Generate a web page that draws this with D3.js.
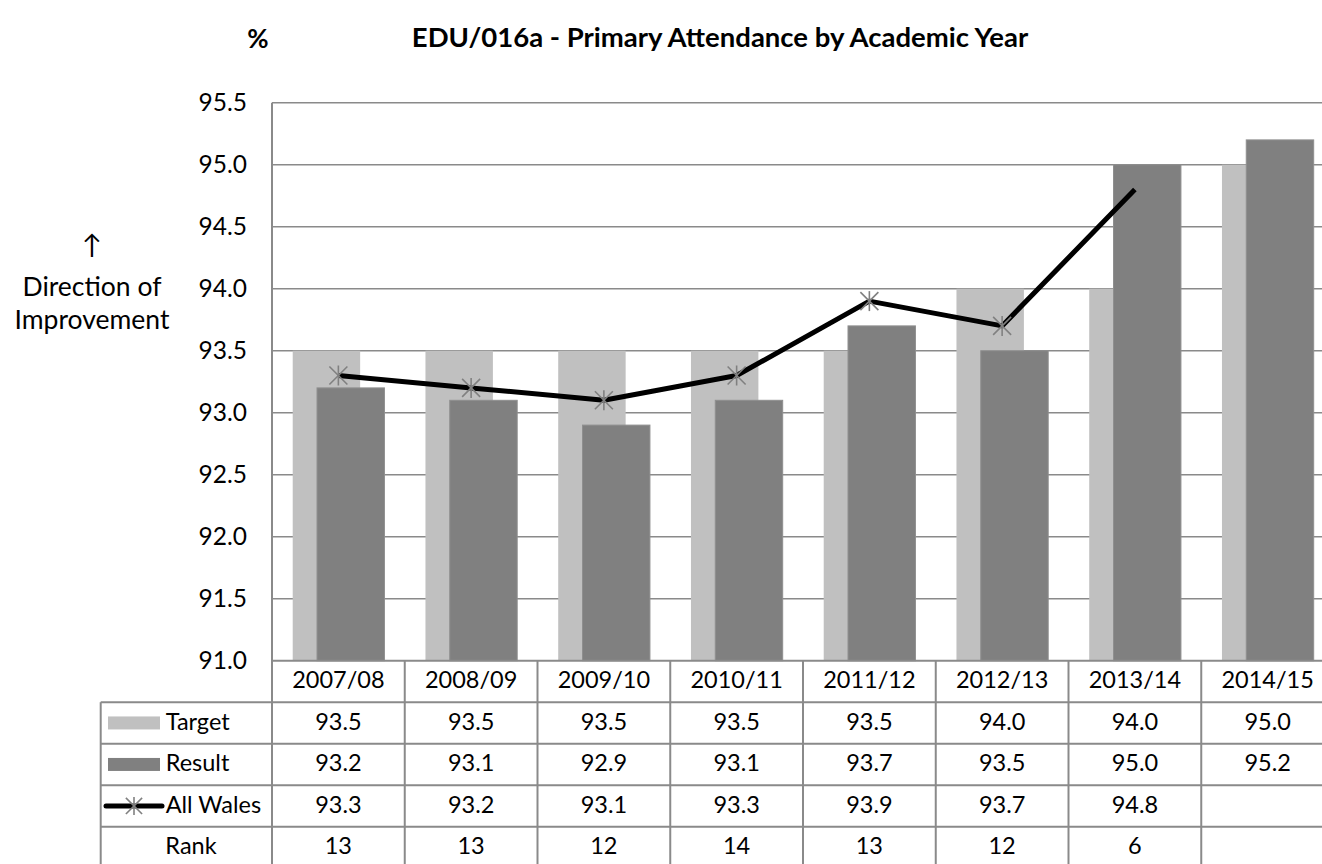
<!DOCTYPE html>
<html>
<head>
<meta charset="utf-8">
<script src="https://cdn.jsdelivr.net/npm/d3@7"></script>
<style>
  body { margin: 0; background: #fff; }
  svg text { font-family: Lato, "Open Sans", sans-serif; fill: #000; }
</style>
</head>
<body>
<div class="container"></div>
<script>
const years = ['2007/08', '2008/09', '2009/10', '2010/11', '2011/12', '2012/13', '2013/14', '2014/15'];
const target = [93.5, 93.5, 93.5, 93.5, 93.5, 94.0, 94.0, 95.0];
const result = [93.2, 93.1, 92.9, 93.1, 93.7, 93.5, 95.0, 95.2];
const allWales = [93.3, 93.2, 93.1, 93.3, 93.9, 93.7, 94.8, null];
const rank = [13, 13, 12, 14, 13, 12, 6, null];
const yTicks = [91.0, 91.5, 92.0, 92.5, 93.0, 93.5, 94.0, 94.5, 95.0, 95.5];

const width = 1322;
const height = 864;
const plotLeft = 272;
const plotTop = 102.7;
const plotBottom = 660.7;
const colW = 132.75;
const rowH = 41.5;
const tableLeft = 100.7;
const gridColor = '#8a8a8a';

const svg = d3.select('.container')
  .append('svg')
  .attr('width', width)
  .attr('height', height);

const x = d3.scaleBand()
  .domain(years)
  .range([plotLeft, plotLeft + colW * years.length])
  .padding(0);

const y = d3.scaleLinear()
  .domain([91, 95.5])
  .range([plotBottom, plotTop]);

const plotRight = x.range()[1];

// Title and labels
svg.append('text')
  .attr('x', 720)
  .attr('y', 40)
  .attr('text-anchor', 'middle')
  .attr('dominant-baseline', 'middle')
  .style('font-size', '27.5px')
  .style('font-weight', 'bold')
  .text('EDU/016a - Primary Attendance by Academic Year');

svg.append('text')
  .attr('x', 258)
  .attr('y', 41)
  .attr('text-anchor', 'middle')
  .attr('dominant-baseline', 'middle')
  .style('font-size', '26px')
  .style('font-weight', 'bold')
  .text('%');

const dir = svg.append('g').attr('text-anchor', 'middle').style('font-size', '26.5px');
dir.append('text').attr('x', 92).attr('y', 247).attr('dominant-baseline', 'middle').text('↑');
dir.append('text').attr('x', 92).attr('y', 289).attr('dominant-baseline', 'middle').text('Direction of');
dir.append('text').attr('x', 92).attr('y', 322).attr('dominant-baseline', 'middle').text('Improvement');

// Gridlines
svg.append('g')
  .selectAll('line')
  .data(yTicks.filter(d => d > 91))
  .enter()
  .append('line')
  .attr('x1', plotLeft)
  .attr('x2', plotRight)
  .attr('y1', d => y(d))
  .attr('y2', d => y(d))
  .attr('stroke', gridColor)
  .attr('stroke-width', 1.5);

// Y axis
const yAxis = svg.append('g')
  .attr('transform', `translate(${plotLeft},0)`)
  .call(d3.axisLeft(y).tickValues(yTicks).tickFormat(d3.format('.1f')).tickSize(0).tickPadding(25));
yAxis.select('.domain').remove();
yAxis.selectAll('text').style('font-size', '24.5px').style('font-family', 'Lato, "Open Sans", sans-serif');

// Bars
const barW = colW * 0.508;
const tOff = colW * 0.156;
const rOff = colW * 0.339;

svg.append('g')
  .selectAll('rect')
  .data(years)
  .enter()
  .append('rect')
  .attr('x', d => x(d) + tOff)
  .attr('y', (d, i) => y(target[i]))
  .attr('width', barW)
  .attr('height', (d, i) => y(91) - y(target[i]))
  .attr('fill', '#c0c0c0');

svg.append('g')
  .selectAll('rect')
  .data(years)
  .enter()
  .append('rect')
  .attr('x', d => x(d) + rOff)
  .attr('y', (d, i) => y(result[i]))
  .attr('width', barW)
  .attr('height', (d, i) => y(91) - y(result[i]))
  .attr('fill', '#808080')
  .attr('stroke', '#8f8f8f')
  .attr('stroke-width', 1);

// All Wales line
const cx = d => x(d) + x.bandwidth() / 2;
const wales = years.map((d, i) => ({ year: d, value: allWales[i] })).filter(d => d.value !== null);

svg.append('path')
  .datum(wales)
  .attr('fill', 'none')
  .attr('stroke', '#000')
  .attr('stroke-width', 5)
  .attr('stroke-linejoin', 'round')
  .attr('d', d3.line().x(d => cx(d.year)).y(d => y(d.value)));

function star(g, px, py, r) {
  const s = g.append('g')
    .attr('transform', `translate(${px},${py})`)
    .attr('stroke', '#808080')
    .attr('stroke-width', 1.6);
  s.append('line').attr('x1', 0).attr('x2', 0).attr('y1', -r).attr('y2', r);
  s.append('line').attr('x1', -r * 0.9).attr('x2', r * 0.9).attr('y1', -r * 0.9).attr('y2', r * 0.9);
  s.append('line').attr('x1', -r * 0.9).attr('x2', r * 0.9).attr('y1', r * 0.9).attr('y2', -r * 0.9);
}

// the last point has no visible marker in the original
const markers = svg.append('g');
wales.slice(0, -1).forEach(d => star(markers, cx(d.year), y(d.value), 10));

// Data table
const table = svg.append('g');
const tableBottom = plotBottom + rowH * 5;
const rowTops = d3.range(5).map(i => plotBottom + rowH * i);

// horizontal lines
table.selectAll('line.h')
  .data(rowTops)
  .enter()
  .append('line')
  .attr('class', 'h')
  .attr('x1', (d, i) => i === 0 ? plotLeft : tableLeft)
  .attr('x2', plotRight)
  .attr('y1', d => d)
  .attr('y2', d => d)
  .attr('stroke', gridColor)
  .attr('stroke-width', 2);

// vertical lines
table.selectAll('line.v')
  .data(years.concat(['end']))
  .enter()
  .append('line')
  .attr('class', 'v')
  .attr('x1', (d, i) => plotLeft + colW * i)
  .attr('x2', (d, i) => plotLeft + colW * i)
  .attr('y1', (d, i) => i === 0 ? plotTop : plotBottom)
  .attr('y2', tableBottom)
  .attr('stroke', gridColor)
  .attr('stroke-width', 2);

table.append('line')
  .attr('x1', tableLeft).attr('x2', tableLeft)
  .attr('y1', plotBottom + rowH).attr('y2', tableBottom)
  .attr('stroke', gridColor)
  .attr('stroke-width', 2);

const rows = [
  years,
  target.map(d3.format('.1f')),
  result.map(d3.format('.1f')),
  allWales.map(d => d === null ? '' : d3.format('.1f')(d)),
  rank.map(d => d === null ? '' : d)
];

rows.forEach((row, r) => {
  table.append('g')
    .selectAll('text')
    .data(row)
    .enter()
    .append('text')
    .attr('x', (d, i) => cx(years[i]))
    .attr('y', rowTops[r] + rowH / 2 + 1)
    .attr('text-anchor', 'middle')
    .attr('dominant-baseline', 'middle')
    .style('font-size', '23.5px')
    .text(d => d);
});

// Legend keys inside table
const keyX = 108;
const keyW = 52;
const labelX = 165.7;
const mid = r => rowTops[r] + rowH / 2;

table.append('rect').attr('x', keyX).attr('y', mid(1) - 6.5).attr('width', keyW).attr('height', 13).attr('fill', '#c0c0c0');
table.append('rect').attr('x', keyX).attr('y', mid(2) - 6.5).attr('width', keyW).attr('height', 13).attr('fill', '#808080');
table.append('line')
  .attr('x1', 106).attr('x2', 162)
  .attr('y1', mid(3)).attr('y2', mid(3))
  .attr('stroke', '#000').attr('stroke-width', 5).attr('stroke-linecap', 'round');
star(table, 134, mid(3), 9);

const labels = ['Target', 'Result', 'All Wales'];
labels.forEach((t, i) => {
  table.append('text')
    .attr('x', labelX)
    .attr('y', mid(i + 1) + 1)
    .attr('dominant-baseline', 'middle')
    .style('font-size', '23.5px')
    .text(t);
});
table.append('text')
  .attr('x', 191)
  .attr('y', mid(4) + 1)
  .attr('text-anchor', 'middle')
  .attr('dominant-baseline', 'middle')
  .style('font-size', '23.5px')
  .text('Rank');
</script>
</body>
</html>
